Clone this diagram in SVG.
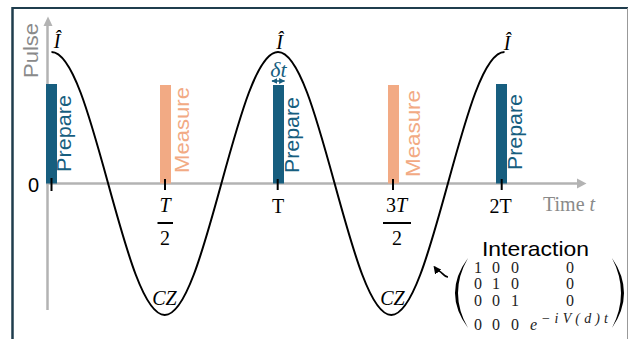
<svg xmlns="http://www.w3.org/2000/svg" width="628" height="339" viewBox="0 0 628 339">
<defs>
<style>
.axis{stroke:#b3b3b3;stroke-width:2.5;fill:none}
.axhead{fill:#b3b3b3}
.tick{stroke:#000;stroke-width:2}
.prep{fill:#175e7f}
.meas{fill:#f2aa84}
.ptxt{font-family:"Liberation Sans",Arial,sans-serif;font-size:20px;fill:#175e7f}
.mtxt{font-family:"Liberation Sans",Arial,sans-serif;font-size:20px;fill:#f2aa84}
.ser{font-family:"Liberation Serif","Times New Roman",serif;font-size:20px;fill:#000}
.it{font-style:italic}
.mat{font-family:"Liberation Serif","Times New Roman",serif;font-size:16px;fill:#222}
.grey{fill:#8a8a8a}
</style>
<marker id="ah" viewBox="0 0 10 10" refX="8" refY="5" markerWidth="5" markerHeight="5" orient="auto-start-reverse">
<path d="M0,0 L10,5 L0,10 z" fill="#000"/>
</marker>
<marker id="bh" viewBox="0 0 10 10" refX="9" refY="5" markerWidth="4" markerHeight="4" orient="auto-start-reverse">
<path d="M0,0 L10,5 L0,10 z" fill="#175e7f"/>
</marker>
</defs>
<rect width="628" height="339" fill="#fff"/>
<g id="frame">
<line x1="12" y1="8" x2="628" y2="8" stroke="#1f3d4d" stroke-width="2"/>
<line x1="12.5" y1="7" x2="12.5" y2="339" stroke="#1f3d4d" stroke-width="2.5"/>
<line x1="627.5" y1="8" x2="627.5" y2="339" stroke="#999" stroke-width="1"/>
</g>
<g id="axes">
<line class="axis" x1="47.5" y1="310" x2="47.5" y2="24"/>
<polygon class="axhead" points="48,16.5 43.5,26 52.5,26"/>
<line class="axis" x1="46" y1="183.5" x2="579" y2="183.5"/>
<polygon class="axhead" points="586.5,183.5 577,178.5 577,188.5"/>
<text x="37.5" y="78" transform="rotate(-90 37.5 78)" font-family="Liberation Sans,Arial,sans-serif" font-size="20" fill="#8a8a8a" textLength="55" lengthAdjust="spacingAndGlyphs">Pulse</text>
<text x="28" y="191.5" font-family="Liberation Sans,Arial,sans-serif" font-size="20" fill="#000">0</text>
<text x="543" y="211" class="ser grey" font-size="21">Time <tspan class="it">t</tspan></text>
</g>
<g id="bars">
<g id="prepare0"><rect class="prep" x="46" y="84" width="11" height="99.5"/><text class="ptxt" transform="translate(71.3 172) rotate(-90)" textLength="77" lengthAdjust="spacingAndGlyphs">Prepare</text></g>
<g id="measure1"><rect class="meas" x="160" y="85" width="11" height="98.5"/><text class="mtxt" transform="translate(188.5 173) rotate(-90)" textLength="86" lengthAdjust="spacingAndGlyphs">Measure</text></g>
<g id="prepare1"><rect class="prep" x="273" y="85" width="11" height="98.5"/><text class="ptxt" transform="translate(299.3 173) rotate(-90)" textLength="76" lengthAdjust="spacingAndGlyphs">Prepare</text></g>
<g id="measure2"><rect class="meas" x="388" y="85" width="11" height="98.5"/><text class="mtxt" transform="translate(420.3 177) rotate(-90)" textLength="87" lengthAdjust="spacingAndGlyphs">Measure</text></g>
<g id="prepare2"><rect class="prep" x="496" y="84" width="11" height="99.5"/><text class="ptxt" transform="translate(522.3 170) rotate(-90)" textLength="76" lengthAdjust="spacingAndGlyphs">Prepare</text></g>
</g>
<g id="ticks">
<line class="tick" x1="51.5" y1="178" x2="51.5" y2="191"/>
<line class="tick" x1="165" y1="179" x2="165" y2="190"/>
<line class="tick" x1="277.7" y1="179" x2="277.7" y2="190"/>
<line class="tick" x1="393" y1="179" x2="393" y2="190"/>
<line class="tick" x1="501.7" y1="179" x2="501.7" y2="190"/>
<text class="ser it" x="165" y="212" text-anchor="middle">T</text>
<line x1="157.5" y1="223" x2="173" y2="223" stroke="#000" stroke-width="2"/>
<text class="ser" x="165" y="245" text-anchor="middle">2</text>
<text class="ser" x="278" y="213" text-anchor="middle">T</text>
<text class="ser" x="396.5" y="212" text-anchor="middle">3<tspan class="it">T</tspan></text>
<line x1="383" y1="223" x2="411" y2="223" stroke="#000" stroke-width="2"/>
<text class="ser" x="397" y="245" text-anchor="middle">2</text>
<text class="ser" x="500.5" y="213" text-anchor="middle">2T</text>
</g>
<g id="pulse">
<path d="M51.5,52 C72,52 89.66,116.13 108.13,183.5 C126.6,250.87 144.26,315 164.75,315 C185.24,315 202.91,250.87 221.38,183.5 C239.85,116.13 257.5,52 278,52 C298.49,52 316.16,116.13 334.63,183.5 C353.1,250.87 370.76,315 391.25,315 C411.74,315 429.41,250.87 447.88,183.5 C466.35,116.13 484,52 504.5,52" fill="none" stroke="#000" stroke-width="2"/>
<text class="ser it" x="57" y="48" text-anchor="middle">Î</text>
<text class="ser it" x="279.5" y="49" text-anchor="middle">Î</text>
<text class="ser it" x="507" y="50" text-anchor="middle">Î</text>
<text class="ser it" x="164.5" y="305" text-anchor="middle">CZ</text>
<text class="ser it" x="392.5" y="305" text-anchor="middle">CZ</text>
</g>
<g id="deltat">
<text class="ser it" x="278.5" y="77" text-anchor="middle" font-size="22" style="fill:#175e7f;font-size:22px">δt</text>
<line x1="272" y1="81" x2="284.5" y2="81" stroke="#175e7f" stroke-width="1.5" marker-start="url(#bh)" marker-end="url(#bh)"/>
</g>
<g id="interaction">
<text x="482" y="255.5" font-family="Liberation Sans,Arial,sans-serif" font-size="21" fill="#000" textLength="107" lengthAdjust="spacingAndGlyphs">Interaction</text>
<path d="M468,258 Q442,293 468,328 Q448,293 468,258 Z" fill="#000"/>
<path d="M612,258 Q636,293 612,328 Q630,293 612,258 Z" fill="#000"/>
<g class="mat" text-anchor="middle">
<text x="478" y="273">1</text><text x="496" y="273">0</text><text x="515" y="273">0</text><text x="570" y="273">0</text>
<text x="478" y="289">0</text><text x="496" y="289">1</text><text x="515" y="289">0</text><text x="570" y="289">0</text>
<text x="478" y="306">0</text><text x="496" y="306">0</text><text x="515" y="306">1</text><text x="570" y="306">0</text>
<text x="478" y="330">0</text><text x="496" y="330">0</text><text x="515" y="330">0</text>
</g>
<text class="mat it" x="530" y="330">e</text>
<text class="mat it" x="541" y="323" font-size="14" style="font-size:14px" textLength="67" lengthAdjust="spacing">−iV(d)t</text>
</g>
<g id="connectors">
<path d="M448,277 C444,277 442,272 439,271 C437,270 436,269 434.5,267" fill="none" stroke="#000" stroke-width="1.6" marker-end="url(#ah)"/>
</g>
</svg>
